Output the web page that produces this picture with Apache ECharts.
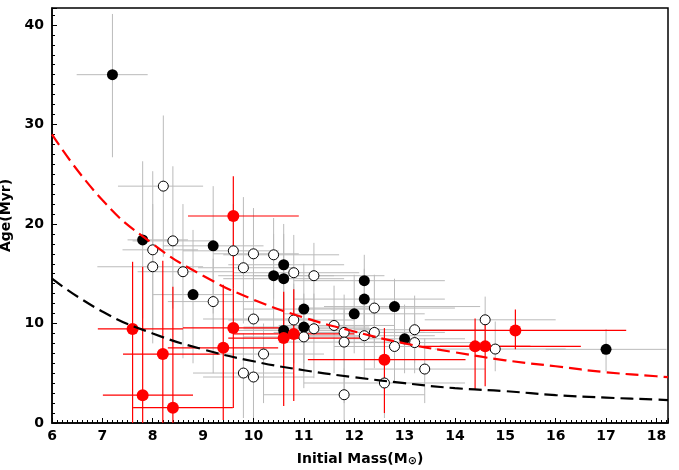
<!DOCTYPE html>
<html>
<head>
<meta charset="utf-8">
<script src="https://cdn.jsdelivr.net/npm/echarts@6/dist/echarts.min.js"></script>
<style>
  html, body { margin: 0; padding: 0; background: #fff; }
  #chart { width: 679px; height: 470px; }
</style>
</head>
<body>
<div id="chart"></div>
<script>
// 点: [mass, age, massLo, massHi, ageLo, ageHi]
var blackPts = [
    [7.2, 35.0, 6.49, 7.9, 26.7, 41.1],
    [7.8, 18.4, 7.5, 8.7, 10.5, 26.3],
    [8.8, 12.9, 8.0, 9.6, 6.0, 19.4],
    [12.0, 10.97, 10.6, 13.4, 7.0, 14.9],
    [17.0, 7.4, 15.8, 18.2, 5.18, 9.44]
];
// 误差棒画在点上面的黑点
var blackCrossPts = [
    [9.2, 17.8, 8.2, 10.2, 11.0, 23.8],
    [10.6, 15.9, 9.5, 11.8, 10.0, 20.0],
    [10.4, 14.8, 9.3, 11.6, 9.5, 19.0],
    [10.6, 14.5, 9.4, 11.8, 9.0, 19.0],
    [12.2, 14.3, 10.8, 13.8, 10.0, 16.9],
    [12.2, 12.45, 10.8, 13.8, 8.0, 15.5],
    [12.8, 11.7, 11.4, 14.5, 8.5, 14.5],
    [11.0, 11.45, 9.8, 12.4, 6.0, 16.0],
    [11.0, 9.64, 9.8, 12.3, 5.0, 13.0],
    [10.6, 9.3, 9.5, 11.8, 5.0, 13.0],
    [13.0, 8.46, 11.8, 14.2, 5.0, 11.9]
];
var openPts = [
    [8.21, 23.8, 7.31, 9.0, 16.7, 30.9],
    [8.4, 18.3, 7.6, 9.2, 11.5, 25.8],
    [8.0, 17.4, 7.4, 8.9, 9.0, 25.3],
    [9.6, 17.3, 8.6, 10.5, 11.0, 22.0],
    [10.0, 17.0, 9.2, 10.9, 12.0, 21.6],
    [10.4, 16.9, 9.4, 11.7, 12.5, 20.6],
    [8.0, 15.7, 6.9, 9.0, 8.0, 22.0],
    [8.6, 15.2, 7.7, 9.6, 6.5, 22.0],
    [9.8, 15.6, 8.9, 10.8, 10.0, 22.7],
    [10.8, 15.1, 9.6, 12.1, 10.5, 18.9],
    [11.2, 14.8, 10.0, 12.6, 9.5, 18.1],
    [9.2, 12.2, 8.3, 10.1, 5.0, 16.5],
    [12.4, 11.55, 11.0, 14.0, 8.0, 14.9],
    [10.0, 10.45, 9.0, 11.2, 5.5, 15.0],
    [10.8, 10.35, 9.5, 12.0, 6.0, 14.0],
    [11.2, 9.47, 9.8, 12.5, 4.5, 13.0],
    [11.6, 9.8, 10.5, 12.8, 5.0, 13.8],
    [11.8, 9.1, 10.4, 13.4, 5.0, 12.9],
    [11.8, 8.13, 10.5, 13.0, 2.0, 11.5],
    [12.2, 8.77, 10.8, 13.6, 4.5, 12.0],
    [12.4, 9.1, 11.0, 13.8, 5.5, 12.5],
    [11.0, 8.65, 9.8, 12.4, 3.5, 12.0],
    [13.2, 9.37, 12.0, 14.6, 6.0, 12.8],
    [13.2, 8.08, 11.9, 14.4, 5.0, 11.0],
    [12.8, 7.69, 11.6, 14.0, 4.0, 10.5],
    [10.2, 6.93, 9.2, 11.4, 2.0, 10.0],
    [9.8, 5.02, 8.8, 10.8, 0.5, 9.0],
    [10.0, 4.62, 9.0, 11.2, 0.5, 9.0],
    [11.8, 2.84, 10.2, 13.4, 0.3, 5.5],
    [12.6, 4.02, 11.0, 14.2, 0.5, 7.0],
    [13.4, 5.42, 12.2, 14.6, 2.0, 8.5],
    [14.6, 10.37, 13.4, 16.0, 7.5, 12.7],
    [14.8, 7.43, 13.6, 16.2, 5.2, 10.2]
];
var redPts = [
    [7.6, 9.45, 6.91, 8.6, 0, 16.2],
    [7.8, 2.8, 7.01, 8.8, 0, 15.7],
    [8.2, 6.93, 7.41, 9.33, 0, 16.3],
    [8.4, 1.54, 7.61, 9.59, 0, 13.7],
    [9.4, 7.55, 8.3, 10.49, 0.3, 13.9],
    [9.6, 20.8, 8.7, 10.9, 13.5, 24.8],
    [9.6, 9.55, 8.6, 10.6, 1.5, 13.5],
    [10.6, 8.53, 9.5, 12.3, 1.7, 13.2],
    [10.8, 8.95, 9.6, 12.0, 2.2, 13.45],
    [12.6, 6.36, 11.08, 14.21, 1.0, 9.54],
    [14.4, 7.7, 13.3, 15.5, 3.4, 10.5],
    [14.6, 7.7, 13.7, 16.5, 3.7, 10.2],
    [15.2, 9.3, 13.3, 17.4, 7.4, 11.4]
];
// 曲线
var curveMass = [6, 7, 8, 9, 10, 11, 12, 13, 14, 15, 16, 17, 18, 18.23];
var redCurve = [29.0, 22.4, 18.0, 14.8, 12.4, 10.6, 9.2, 8.0, 7.1, 6.3, 5.7, 5.1, 4.7, 4.6];
var blackCurve = [14.5, 11.2, 9.0, 7.4, 6.2, 5.3, 4.6, 4.0, 3.5, 3.2, 2.8, 2.55, 2.35, 2.3];

var font = "DejaVu Sans";

function pairs(xs, ys) {
    return xs.map((x, i) => [x, ys[i]]);
}

// 误差棒
function errBars(pts, color, width) {
    return {
        type: "custom",
        data: pts,
        clip: true,
        silent: true,
        itemStyle: { color: color },
        renderItem: function (params, api) {
            var p = pts[params.dataIndex];
            var l = api.coord([p[2], p[1]]);
            var r = api.coord([p[3], p[1]]);
            var b = api.coord([p[0], p[4]]);
            var t = api.coord([p[0], p[5]]);
            var style = { stroke: color, fill: null, lineWidth: width };
            return {
                type: "group",
                children: [
                    { type: "line", shape: { x1: l[0], y1: l[1], x2: r[0], y2: r[1] }, style: style },
                    { type: "line", shape: { x1: b[0], y1: b[1], x2: t[0], y2: t[1] }, style: style }
                ]
            };
        }
    };
}

function marks(pts, size, color, border) {
    return {
        type: "scatter",
        data: pts.map(p => [p[0], p[1]]),
        symbol: "circle",
        symbolSize: size,
        silent: true,
        itemStyle: {
            color: color,
            opacity: 1,
            borderColor: border || color,
            borderWidth: border ? 1 : 0
        }
    };
}

function curve(ys, color) {
    return {
        type: "line",
        data: pairs(curveMass, ys),
        smooth: true,
        showSymbol: false,
        silent: true,
        lineStyle: { color: color, width: 2.2, type: [13, 6] }
    };
}

var myChart = echarts.init(document.getElementById("chart"));
var option = {
    animation: false,
    grid: {
        left: 52,
        right: 11,
        top: 8,
        bottom: 47,
        containLabel: false,
        outerBoundsMode: "none",
        show: true,
        borderColor: "#000",
        borderWidth: 1.5
    },
    xAxis: {
        type: "value",
        min: 6,
        max: 18.23,
        interval: 1,
        name: "Initial Mass(M{sub|⊙})",
        nameLocation: "middle",
        nameGap: 29,
        nameTextStyle: {
            color: "#000",
            fontFamily: font,
            fontSize: 14,
            fontWeight: "bold",
            rich: {
                sub: { fontFamily: font, fontSize: 11, fontWeight: "bold", color: "#000", verticalAlign: "bottom", padding: [4, 0, 0, 0] }
            }
        },
        axisLine: { lineStyle: { color: "#000", width: 1.5 } },
        axisTick: { inside: true, length: 5, lineStyle: { color: "#000" } },
        minorTick: { show: true, splitNumber: 10, length: 3, lineStyle: { color: "#000" } },
        splitLine: { show: false },
        axisLabel: { color: "#000", fontFamily: font, fontSize: 14, fontWeight: "bold", margin: 6, showMaxLabel: false }
    },
    yAxis: {
        type: "value",
        min: 0,
        max: 41.7,
        interval: 10,
        name: "Age(Myr)",
        nameLocation: "middle",
        nameGap: 36,
        nameTextStyle: { color: "#000", fontFamily: font, fontSize: 14, fontWeight: "bold" },
        axisLine: { lineStyle: { color: "#000", width: 1.5 } },
        axisTick: { inside: true, length: 5, lineStyle: { color: "#000" } },
        minorTick: { show: true, splitNumber: 10, length: 3, lineStyle: { color: "#000" } },
        splitLine: { show: false },
        axisLabel: { color: "#000", fontFamily: font, fontSize: 14, fontWeight: "bold", margin: 8, showMaxLabel: false }
    },
    series: [
        curve(redCurve, "#ff0000"),
        curve(blackCurve, "#000000"),
        errBars(blackPts, "#bbbbbb", 1),
        marks(blackPts, 11, "#000000", null),
        marks(blackCrossPts, 11, "#000000", null),
        errBars(blackCrossPts, "#bbbbbb", 1),
        errBars(openPts, "#bbbbbb", 1),
        marks(openPts, 10, "#ffffff", "#000000"),
        errBars(redPts, "#ff0000", 1.2),
        marks(redPts, 12, "#ff0000", null)
    ]
};
myChart.setOption(option);
</script>
</body>
</html>
